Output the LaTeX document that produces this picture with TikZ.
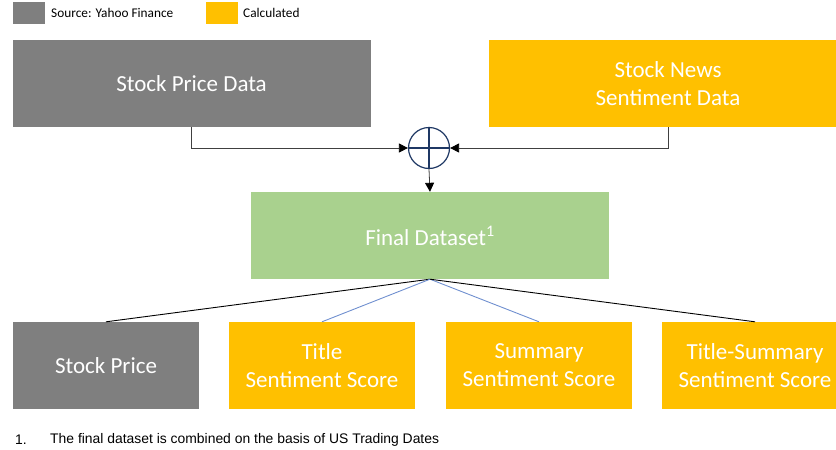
\documentclass[tikz,border=0pt]{standalone}
\usepackage{fontspec}
\setmainfont{Carlito}
\newfontfamily\arialf{Liberation Sans}
\usetikzlibrary{arrows.meta}
\definecolor{srcgray}{HTML}{7F7F7F}
\definecolor{calcyel}{HTML}{FFC000}
\definecolor{fdgreen}{HTML}{A9D18E}
\definecolor{opnavy}{HTML}{1F3864}
\definecolor{linkblue}{HTML}{6F8FCF}
\definecolor{conngray}{HTML}{404040}
\tikzset{
  boxbase/.style={rectangle, inner sep=0pt, align=center, text=white,
    font=\fontsize{23}{28}\selectfont},
  graybox/.style={boxbase, fill=srcgray},
  yelbox/.style={boxbase, fill=calcyel},
  greenbox/.style={boxbase, fill=fdgreen},
  legbox/.style={rectangle, inner sep=0pt, minimum width=32pt, minimum height=22pt},
  legtext/.style={anchor=west, inner sep=0pt, font=\fontsize{13.3}{15}\selectfont},
  conn/.style={draw=conngray, line width=0.8pt, -{Triangle[length=9pt,width=9pt,color=black]}},
  link/.style={line width=0.9pt},
}
\begin{document}
\begin{tikzpicture}[x=1pt,y=-1pt]
\useasboundingbox (0,0) rectangle (836,450);
\clip (0,0) rectangle (836,450);
% legend
\node[legbox, fill=srcgray] (lg1) at (29,12.5) {};
\node[legtext] (lt1) at (51,13) {Source: Yahoo Finance};
\node[legbox, fill=calcyel] (lg2) at (222,12.5) {};
\node[legtext] (lt2) at (243,13) {Calculated};
% top boxes
\node[graybox, minimum width=358pt, minimum height=87pt] (spd) at (191.5,83.5) {Stock Price Data};
\node[yelbox, minimum width=358pt, minimum height=87pt] (news) at (668,83.5) {Stock News\\Sentiment Data};
% combine operator
\node[circle, draw=opnavy, line width=1.2pt, minimum size=41pt, inner sep=0pt] (op) at (429,148) {};
\draw[opnavy, line width=1.2pt] (op.north) -- (op.south) (op.west) -- (op.east);
\draw[conn] (spd.south) |- (op.west);
\draw[conn] (news.south) |- (op.east);
% final dataset
\node[greenbox, minimum width=358pt, minimum height=87pt] (fd) at (430,235.5) {Final Dataset\textsuperscript{1}};
\draw[conn] (op.south) -- (fd.north);
% bottom boxes
\node[graybox, minimum width=186pt, minimum height=87pt] (sp) at (106,365.5) {Stock Price};
\node[yelbox, minimum width=186pt, minimum height=87pt] (ts) at (322,365.5) {Title\\Sentiment Score};
\node[yelbox, minimum width=186pt, minimum height=87pt] (ss) at (539,365.5) {Summary\\Sentiment Score};
\node[yelbox, minimum width=186pt, minimum height=87pt] (tss) at (755,365.5) {Title-Summary\\Sentiment Score};
\draw[link, black] (fd.south) -- (sp.north);
\draw[link, linkblue] (fd.south) -- (ts.north);
\draw[link, linkblue] (fd.south) -- (ss.north);
\draw[link, black] (fd.south) -- (tss.north);
% footnote
\node[anchor=west, inner sep=0pt, font=\arialf\fontsize{13.9}{16}\selectfont] (fn1) at (15,440) {1.};
\node[anchor=west, inner sep=0pt, font=\arialf\fontsize{13.9}{16}\selectfont] (fn2) at (50,440) {The final dataset is combined on the basis of US Trading Dates};
\end{tikzpicture}
\end{document}
